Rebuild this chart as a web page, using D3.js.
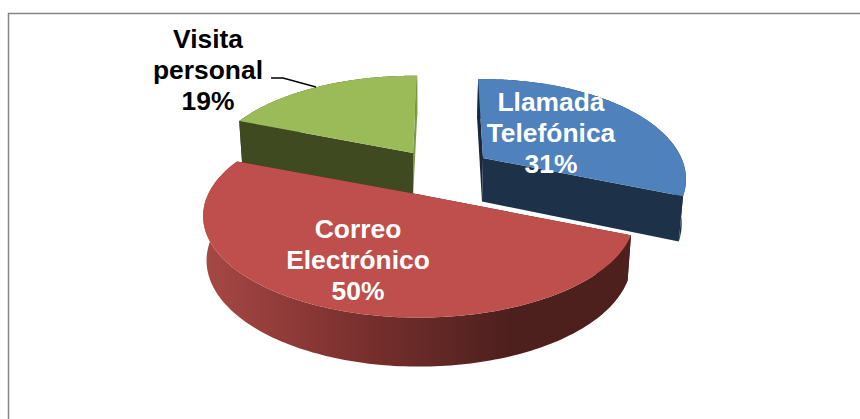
<!DOCTYPE html>
<html><head><meta charset="utf-8">
<script src="https://cdn.jsdelivr.net/npm/d3@7"></script>
<style>html,body{margin:0;padding:0;background:#fff}svg{display:block}text{font-family:"Liberation Sans",Arial,sans-serif;font-weight:bold;font-size:26.4px;text-anchor:middle}</style>
</head><body><svg id="c" width="860" height="419"></svg>
<script>
const categories = ["Llamada Telefónica", "Correo Electrónico", "Visita personal"];
const values = [31, 50, 19];
const labelLines = [["Llamada", "Telefónica", "31%"], ["Correo", "Electrónico", "50%"], ["Visita", "personal", "19%"]];
const topColors = ["#4F81BD", "#BE4F4C", "#9BBB59"];
const wallColors = ["#1D3249", "url(#redWall)", "#3F4A20"];
const startFaceColors = ["#18293E", "#4D1F1D", "#3F4A20"];
const endFaceColors = ["#1D3249", "#4D1F1D", "#7A9A48"];
const labelColors = ["#fff", "#fff", "#000"];

const cx = 419, Rx = 211, Ry = 97, k = 0.212, depth = 43.5;
const apexes = [[483, 158], [419, 194.5], [413, 153]];
const sliceScaleX = [0.94, 1, 0.955];
const sliceScaleY = [0.985, 1, 0.965];
const startTilt = [-0.03, 0.02, 0];
const endTilt = [0, 0, 0.025];
const labelPos = [[551, 111], [358, 238], [208, 48]];
const lineGap = 31;

const svg = d3.select("#c");
const grad = svg.append("defs").append("linearGradient").attr("id", "redWall")
  .attr("gradientUnits", "userSpaceOnUse").attr("x1", 205).attr("x2", 630).attr("y1", 0).attr("y2", 0);
[[0, "#A54845"], [0.2, "#8F3A38"], [0.4, "#752E2C"], [0.55, "#622826"], [0.72, "#4D1F1D"], [1, "#4D1F1D"]]
  .forEach(([o, c]) => grad.append("stop").attr("offset", o).attr("stop-color", c));

svg.append("path").attr("d", "M8.5,419V13.5H860").attr("fill", "none").attr("stroke", "#868686").attr("stroke-width", 1.5);

function project(i, u, v, h) {
  const s = 1 / (1 - k * v);
  const x = apexes[i][0] + Rx * sliceScaleX[i] * u * s;
  const y = apexes[i][1] + Ry * sliceScaleY[i] * v * s + h * depth * Math.sqrt(s);
  return [cx + (x - cx) * (1 - 0.016 * h), y];
}
const line = d3.line();
const arcs = d3.pie().sort(null).startAngle(0).endAngle(2 * Math.PI)(values);

function draw(i) {
  const a = arcs[i];
  const a0 = a.startAngle + startTilt[i], a1 = a.endAngle + endTilt[i];
  const thetas = d3.range(0, 161).map(t => a0 + (a1 - a0) * t / 160);
  const rim = h => thetas.map(t => project(i, Math.sin(t), -Math.cos(t), h));
  const apex = h => project(i, 0, 0, h);
  const t0 = rim(0), b0 = rim(1), n = thetas.length - 1;
  const g = svg.append("g");
  g.append("path").attr("d", line([...t0, ...b0.slice().reverse()]) + "Z").attr("fill", wallColors[i]);
  const first = [apex(0), t0[0], b0[0], apex(1)];
  const last = [apex(0), t0[n], b0[n], apex(1)];
  g.append("path").attr("d", line(first) + "Z").attr("fill", startFaceColors[i]);
  g.append("path").attr("d", line(last) + "Z").attr("fill", endFaceColors[i]);
  g.append("path").attr("d", line([apex(0), ...t0]) + "Z").attr("fill", topColors[i]);
}
[2, 0, 1].forEach(draw);

svg.append("path").attr("d", d3.line()([[271, 78], [283, 78], [316, 87]])).attr("fill", "none").attr("stroke", "#000").attr("stroke-width", 1.3);

labelLines.forEach((lines, i) => {
  lines.forEach((t, j) => {
    svg.append("text").attr("x", labelPos[i][0]).attr("y", labelPos[i][1] + j * lineGap).attr("fill", labelColors[i]).text(t);
  });
});
</script></body></html>
